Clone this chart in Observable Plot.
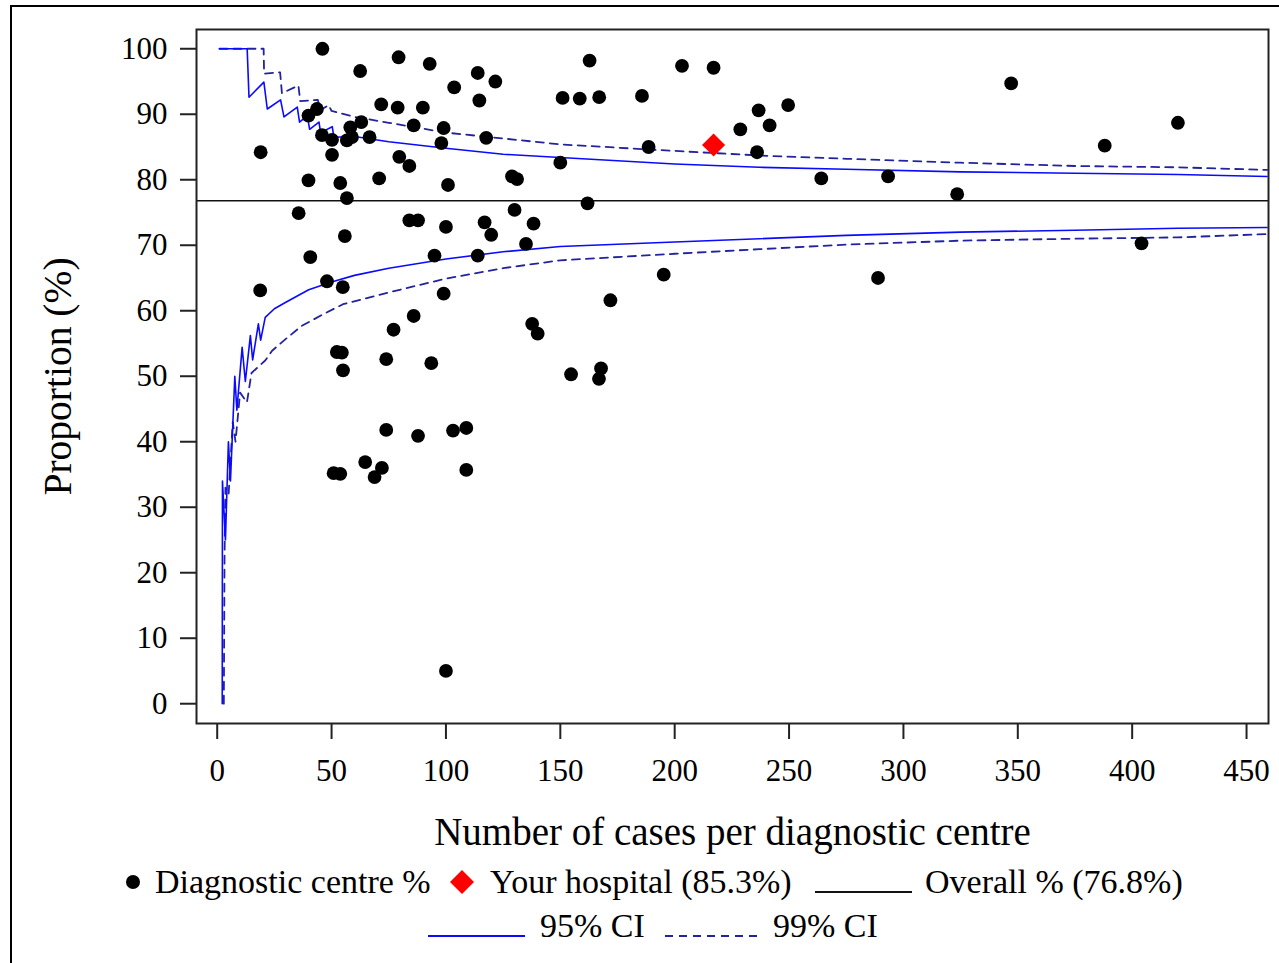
<!DOCTYPE html>
<html>
<head>
<meta charset="utf-8">
<script src="https://cdn.jsdelivr.net/npm/d3@7"></script>
<script src="https://cdn.jsdelivr.net/npm/@observablehq/plot@0.6"></script>
<style>
  html, body { margin: 0; padding: 0; background: #fff; overflow: hidden; }
  body { width: 1279px; height: 963px; position: relative; font-family: "Liberation Serif", "Times New Roman", serif; }
  #chart { position: absolute; left: 0; top: 0; }
  #border { position: absolute; left: 10px; top: 5px; width: 1400px; height: 1100px; border-left: 2px solid #000; border-top: 2px solid #000; pointer-events: none; }
  .lg { position: absolute; font-size: 34px; line-height: 40px; height: 40px; white-space: nowrap; color: #000; }
  .sw { position: absolute; }
</style>
</head>
<body>
<div id="chart"></div>
<div id="legend"></div>
<div id="border"></div>
<script>
// ---- Data ----
const xTicks = [0, 50, 100, 150, 200, 250, 300, 350, 400, 450];
const yTicks = [0, 10, 20, 30, 40, 50, 60, 70, 80, 90, 100];

// Diagnostic centres: number of cases and proportion (%)
const centreN = [46, 19, 79.3, 62.5, 92.9, 113.9, 121.6, 103.6, 114.6, 71.7,
  78.9, 89.9, 151, 158.5, 167, 39.9, 43.6, 63, 58.2, 85.9,
  99, 45.8, 50.2, 56.7, 58.9, 66.6, 117.6, 98, 50.2, 79.6,
  84, 150, 39.9, 53.8, 70.8, 100.9, 128.9, 131.1, 56.7, 35.6,
  84, 87.8, 100, 116.9, 119.8, 130, 138.3, 135, 55.8, 40.7,
  95, 113.9, 18.8, 48, 54.9, 99, 85.9, 77.1, 137.7, 140.1,
  52.3, 54.5, 55, 73.9, 93.6, 154.7, 167.8, 166.9, 171.9, 195.2,
  288.9, 73.9, 87.8, 103.1, 108.9, 50.9, 53.8, 64.7, 72, 68.8,
  108.9, 100, 162.8, 203.2, 217, 185.7, 249.6, 236.7, 228.7, 241.5,
  188.6, 236, 161.9, 264.1, 293.3, 323.5, 347.1, 420, 388, 404.1];
const centrePct = [100, 84.2, 98.7, 96.6, 97.7, 96.3, 95.0, 94.1, 92.1, 91.5,
  91.0, 91.0, 92.5, 92.4, 92.6, 89.8, 90.8, 88.8, 88.0, 88.3,
  87.9, 86.8, 86.1, 86.0, 86.5, 86.5, 86.4, 85.6, 83.8, 83.5,
  82.1, 82.6, 79.9, 79.5, 80.2, 79.2, 80.5, 80.1, 77.2, 74.9,
  73.8, 73.8, 72.8, 73.5, 71.6, 75.4, 73.3, 70.2, 71.4, 68.2,
  68.4, 68.4, 63.1, 64.5, 63.6, 62.6, 59.2, 57.1, 58.0, 56.5,
  53.7, 53.6, 50.9, 52.6, 52.0, 50.3, 51.2, 49.6, 61.6, 65.5,
  65.0, 41.8, 40.9, 41.7, 42.1, 35.2, 35.1, 36.9, 36.0, 34.6,
  35.7, 5.0, 98.2, 97.4, 97.1, 92.8, 91.4, 90.6, 87.7, 88.3,
  85.0, 84.2, 76.4, 80.2, 80.5, 77.8, 94.7, 88.7, 85.2, 70.3];

// Your hospital
const hospitalN = [217];
const hospitalPct = [85.3];

// Overall proportion
const overallPct = [76.8];

// 95% control limits (solid)
const ci95UpperN = [1, 13.1, 13.9, 20.4, 21.9, 27.7, 29.2, 35, 36, 39.4, 40.4, 44.5, 45.2, 50.3, 51,
  60, 75, 100, 125, 150, 200, 237, 275, 325, 375, 420, 459];
const ci95UpperV = [100, 100, 92.6, 94.9, 90.8, 92.2, 89.6, 91.1, 88.8, 89.8, 87.7, 88.8, 87.2, 88.1, 86.5,
  86.6, 85.8, 84.8, 83.9, 83.4, 82.4, 81.9, 81.6, 81.2, 81.0, 80.8, 80.5];
const ci95LowerN = [2.2, 2.3, 3.6, 4.9, 5.8, 7.7, 8.6, 10.9, 12.3, 14.5, 15.5, 18, 19, 21,
  25, 30, 40, 50, 60, 75, 100, 125, 150, 200, 237, 275, 325, 375, 420, 459];
const ci95LowerV = [0, 34, 25, 40, 34, 50, 44.8, 54.4, 49.2, 56.2, 52.5, 58, 55.5, 59,
  60.3, 61.3, 63.2, 64.4, 65.4, 66.5, 67.9, 69.0, 69.8, 70.5, 71.0, 71.5, 72.0, 72.3, 72.6, 72.7];

// 99% control limits (dashed)
const ci99UpperN = [1, 18, 20.3, 20.5, 27.5, 28.3, 35.5, 36.3, 44, 45, 48.7, 50,
  60, 75, 100, 125, 150, 200, 237, 275, 325, 375, 420, 459];
const ci99UpperV = [100, 100, 100, 96.2, 96.4, 93.2, 94.4, 92.0, 92.2, 90.6, 91.4, 90.5,
  89.6, 88.7, 87.2, 86.3, 85.4, 84.4, 83.7, 83.2, 82.6, 82.1, 81.9, 81.5];
const ci99LowerN = [2.9, 3.2, 3.6, 5, 6.8, 8, 10, 13, 15, 21, 24, 30, 37, 46, 55,
  75, 100, 125, 150, 200, 237, 275, 325, 375, 420, 459];
const ci99LowerV = [0, 22, 33, 32, 43, 40, 47.5, 46, 50.5, 52.4, 53.9, 55.7, 57.7, 59.4, 61.0,
  62.8, 64.9, 66.5, 67.7, 68.7, 69.4, 70.1, 70.7, 71.0, 71.2, 71.7];

// ---- Build tables ----
const zip = (xs, ys) => xs.map((x, i) => ({x, y: ys[i]}));
const centres = zip(centreN, centrePct);
const hospital = zip(hospitalN, hospitalPct);
const u95 = zip(ci95UpperN, ci95UpperV), l95 = zip(ci95LowerN, ci95LowerV);
const u99 = zip(ci99UpperN, ci99UpperV), l99 = zip(ci99LowerN, ci99LowerV);

const BLUE = "#0a0aff";
const NAVY = "#23239e";

const chart = Plot.plot({
  width: 1279,
  height: 850,
  marginLeft: 196,
  marginRight: 11,
  marginTop: 29,
  marginBottom: 127,
  style: {fontFamily: "'Liberation Serif', 'Times New Roman', serif", background: "transparent", color: "#000", overflow: "visible"},
  x: {domain: [-9.05, 459.6]},
  y: {domain: [-3.02, 102.94]},
  marks: [
    Plot.line(u99, {x: "x", y: "y", stroke: NAVY, strokeWidth: 1.8, strokeDasharray: "8,6"}),
    Plot.line(l99, {x: "x", y: "y", stroke: NAVY, strokeWidth: 1.8, strokeDasharray: "8,6"}),
    Plot.line(u95, {x: "x", y: "y", stroke: BLUE, strokeWidth: 1.6}),
    Plot.line(l95, {x: "x", y: "y", stroke: BLUE, strokeWidth: 1.6}),
    Plot.ruleY(overallPct, {stroke: "#111", strokeWidth: 1.6}),
    Plot.dot(centres, {x: "x", y: "y", r: 6.9, fill: "#000", stroke: "none"}),
    Plot.dot(hospital, {x: "x", y: "y", r: 10.4, symbol: "diamond2", fill: "#ff0000", stroke: "none"}),
    Plot.frame({stroke: "#222", strokeWidth: 2}),
    Plot.axisX({ticks: xTicks, tickSize: 16, tickPadding: 19, fontSize: 31, label: null, tickFormat: d => String(d), stroke: "#222", strokeWidth: 2}),
    Plot.axisY({ticks: yTicks, tickSize: 16, tickPadding: 13, fontSize: 31, label: null, tickFormat: d => String(d), stroke: "#222", strokeWidth: 2}),
    Plot.text(["Number of cases per diagnostic centre"], {frameAnchor: "bottom", lineAnchor: "middle", textAnchor: "middle", dy: 109, fontSize: 39, fill: "#000"}),
    Plot.text(["Proportion (%)"], {frameAnchor: "left", lineAnchor: "middle", textAnchor: "middle", dx: -138, rotate: -90, fontSize: 39.5, fill: "#000"})
  ]
});
document.getElementById("chart").appendChild(chart);

// ---- Legend (HTML below the plot) ----
const legend = document.getElementById("legend");
function addText(txt, left, cy) {
  const d = document.createElement("div");
  d.className = "lg";
  d.textContent = txt;
  d.style.left = left + "px";
  d.style.top = (cy - 20) + "px";
  legend.appendChild(d);
}
function addSwatch(svgInner, left, cy, w, h) {
  const d = document.createElement("div");
  d.className = "sw";
  d.style.left = left + "px";
  d.style.top = (cy - h / 2) + "px";
  d.innerHTML = `<svg width="${w}" height="${h}" viewBox="0 0 ${w} ${h}">${svgInner}</svg>`;
  legend.appendChild(d);
}
const r1 = 882, r2 = 926;
addSwatch(`<circle cx="8" cy="8" r="7" fill="#000"/>`, 125, r1, 16, 16);
addText("Diagnostic centre %", 155, r1);
addSwatch(`<path d="M12,0 L24,12 L12,24 L0,12 Z" fill="#ff0000"/>`, 450, r1, 24, 24);
addText("Your hospital (85.3%)", 490, r1);
addSwatch(`<line x1="0" y1="2" x2="97" y2="2" stroke="#111" stroke-width="2"/>`, 815, r1, 97, 4);
addText("Overall % (76.8%)", 925, r1);
addSwatch(`<line x1="0" y1="2" x2="97" y2="2" stroke="${BLUE}" stroke-width="2"/>`, 428, r2, 97, 4);
addText("95% CI", 540, r2);
addSwatch(`<line x1="0" y1="2" x2="97" y2="2" stroke="${NAVY}" stroke-width="2" stroke-dasharray="8,6"/>`, 665, r2, 97, 4);
addText("99% CI", 773, r2);
</script>
</body>
</html>
